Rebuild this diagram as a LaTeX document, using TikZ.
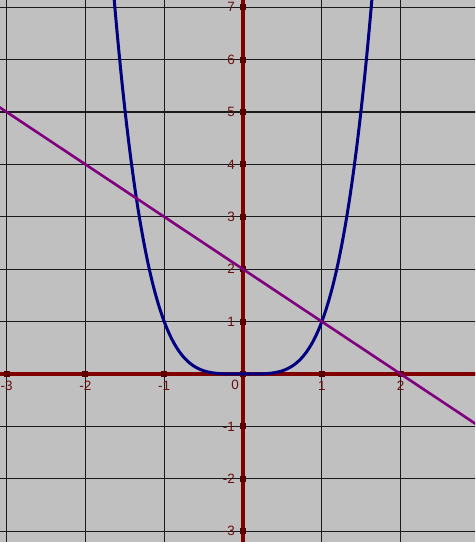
\documentclass[tikz,border=0pt]{standalone}
\usepackage{fontspec}
\setmainfont{Liberation Sans}
\definecolor{bggray}{HTML}{C0C0C0}
\definecolor{gridc}{HTML}{1A1A1A}
\definecolor{axisc}{HTML}{800000}
\definecolor{tickc}{HTML}{5A0000}
\definecolor{curvec}{HTML}{000080}
\definecolor{linec}{HTML}{800080}
\definecolor{labc}{HTML}{6A1010}
\begin{document}
\begin{tikzpicture}[x=78.8pt,y=52.4pt,
  gridline/.style={gridc,line width=1.1pt},
  axisline/.style={axisc,line width=4pt},
  tickbox/.style={fill=tickc,minimum size=6pt,inner sep=0pt},
  curvestyle/.style={curvec,line width=3pt,line join=round},
  linestyle/.style={linec,line width=2.6pt},
  xlab/.style={text=labc,font=\fontsize{13.5}{13.5}\selectfont,inner sep=0pt},
  ylab/.style={text=labc,font=\fontsize{13.5}{13.5}\selectfont,inner sep=0pt,anchor=east}]
\useasboundingbox (-3.084,-3.206) rectangle (2.944,7.137);
\clip (-3.084,-3.206) rectangle (2.944,7.137);
\fill[bggray] (-3.084,-3.206) rectangle (2.944,7.137);
% grid
\foreach \i in {-3,...,2} \draw[gridline] (\i,-3.3) -- (\i,7.2);
\foreach \j in {-3,...,7} \draw[gridline] (-3.2,\j) -- (3.1,\j);
% axes
\draw[axisline] (-3.2,0) -- (3.1,0);
\draw[axisline] (0,-3.3) -- (0,7.2);
% ticks
\foreach \i in {-3,...,2} \node[tickbox] (tx\i) at (\i,0) {};
\foreach \j in {-3,...,7} \node[tickbox] (ty\j) at (0,\j) {};
% labels
\foreach \i in {-3,-2,-1,1,2} \node[xlab] (lx\i) at (\i,-0.22) {\i};
\node[xlab,anchor=east] (l0) at (-0.05,-0.2) {0};
\foreach \j in {-3,-2,-1,1,2,3,4,5,6,7} \node[ylab] (ly\j) at (-0.1,\j) {\j};
% curves
\draw[curvestyle] plot[domain=-1.66:1.66,samples=240,smooth] (\x,{(\x)^4});
\coordinate (la) at (-3.1,5.1);
\coordinate (lb) at (3.0,-1.0);
\draw[linestyle] (la) -- (lb);
\end{tikzpicture}
\end{document}
